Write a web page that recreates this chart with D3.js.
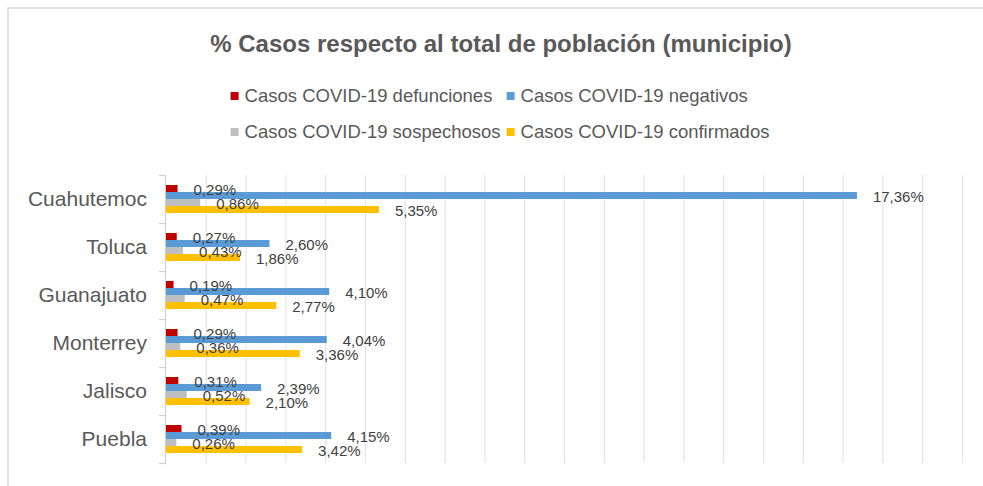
<!DOCTYPE html>
<html>
<head>
<meta charset="utf-8">
<script src="https://cdn.jsdelivr.net/npm/d3@7"></script>
<style>
  html, body { margin: 0; padding: 0; background: #fff; }
  svg { display: block; font-family: "Liberation Sans", Arial, sans-serif; }
</style>
</head>
<body>
<svg id="chart" width="983" height="486"></svg>
<script>
// Chart data
const categories = ['Cuahutemoc', 'Toluca', 'Guanajuato', 'Monterrey', 'Jalisco', 'Puebla'];
const defunciones = [0.29, 0.27, 0.19, 0.29, 0.31, 0.39];
const negativos = [17.36, 2.60, 4.10, 4.04, 2.39, 4.15];
const sospechosos = [0.86, 0.43, 0.47, 0.36, 0.52, 0.26];
const confirmados = [5.35, 1.86, 2.77, 3.36, 2.10, 3.42];

const seriesNames = [
  'Casos COVID-19 defunciones',
  'Casos COVID-19 negativos',
  'Casos COVID-19 sospechosos',
  'Casos COVID-19 confirmados'
];
const seriesValues = [defunciones, negativos, sospechosos, confirmados];
const seriesColors = ['#C00000', '#5B9BD5', '#BFBFBF', '#FFC000'];

const svg = d3.select('#chart');

// Layout
const plot = { left: 166, right: 962, top: 175, bottom: 463 };

// Outer frame (cropped at right/bottom)
svg.append('rect')
  .attr('x', 8)
  .attr('y', 8)
  .attr('width', 1000)
  .attr('height', 500)
  .attr('fill', '#fff')
  .attr('stroke', '#d9d9d9')
  .attr('stroke-width', 1.5);

// Title
svg.append('text')
  .attr('x', 501)
  .attr('y', 52)
  .attr('text-anchor', 'middle')
  .style('font-size', '24px')
  .style('font-weight', 'bold')
  .style('fill', '#595959')
  .text('% Casos respecto al total de población (municipio)');

// Scales
const xScale = d3.scaleLinear()
  .domain([0, 20])
  .range([plot.left, plot.right]);

const yScale = d3.scaleBand()
  .domain(categories)
  .range([plot.top, plot.bottom]);

const innerScale = d3.scaleBand()
  .domain(d3.range(seriesNames.length))
  .range([10, yScale.bandwidth() - 10]);

// Gridlines
svg.append('g')
  .attr('class', 'grid')
  .attr('transform', `translate(0, ${plot.bottom})`)
  .call(d3.axisBottom(xScale).ticks(20).tickSize(-(plot.bottom - plot.top)).tickFormat(''))
  .call(g => g.select('.domain').remove())
  .call(g => g.selectAll('.tick line').attr('stroke', '#e4e4e4').attr('stroke-width', 1.2))
  .call(g => g.selectAll('.tick').filter(d => d === 0).remove());

// Category axis with ticks at band boundaries
const yAxis = svg.append('g').attr('class', 'y-axis');
yAxis.append('line')
  .attr('x1', plot.left - 0.5)
  .attr('x2', plot.left - 0.5)
  .attr('y1', plot.top)
  .attr('y2', plot.bottom)
  .attr('stroke', '#d0d0d0')
  .attr('stroke-width', 1.2);

const boundaries = categories.map(c => yScale(c)).concat([plot.bottom]);
yAxis.selectAll('.band-tick')
  .data(boundaries)
  .enter()
  .append('line')
  .attr('class', 'band-tick')
  .attr('x1', plot.left - 7)
  .attr('x2', plot.left - 0.5)
  .attr('y1', d => Math.round(d) + 0.5)
  .attr('y2', d => Math.round(d) + 0.5)
  .attr('stroke', '#d0d0d0')
  .attr('stroke-width', 1.2);

yAxis.selectAll('.cat-label')
  .data(categories)
  .enter()
  .append('text')
  .attr('class', 'cat-label')
  .attr('x', 147)
  .attr('y', d => yScale(d) + yScale.bandwidth() / 2)
  .attr('dy', '0.35em')
  .attr('text-anchor', 'end')
  .style('font-size', '21px')
  .style('fill', '#595959')
  .text(d => d);

// Bars
const barData = [];
categories.forEach((cat, i) => {
  seriesValues.forEach((vals, s) => {
    barData.push({ cat, s, value: vals[i] });
  });
});

svg.append('g')
  .selectAll('.bar')
  .data(barData)
  .enter()
  .append('rect')
  .attr('class', 'bar')
  .attr('x', xScale(0))
  .attr('y', d => yScale(d.cat) + innerScale(d.s))
  .attr('width', d => xScale(d.value) - xScale(0))
  .attr('height', innerScale.bandwidth())
  .attr('fill', d => seriesColors[d.s]);

// Data labels
const fmt = v => v.toFixed(2).replace('.', ',') + '%';
svg.append('g')
  .selectAll('.label')
  .data(barData)
  .enter()
  .append('text')
  .attr('class', 'label')
  .attr('x', d => xScale(d.value) + 16)
  .attr('y', d => yScale(d.cat) + innerScale(d.s) + innerScale.bandwidth() / 2 + 1)
  .attr('dy', '0.35em')
  .style('font-size', '15px')
  .style('fill', '#404040')
  .text(d => fmt(d.value));

// Legend (two rows, two aligned columns)
const legend = svg.append('g').attr('class', 'legend');
const rows = [[0, 1], [2, 3]];
const rowY = [96, 132];
const items = [];
seriesNames.forEach((name, i) => {
  const g = legend.append('g');
  g.append('rect')
    .attr('width', 8)
    .attr('height', 8)
    .attr('y', -4)
    .attr('fill', seriesColors[i]);
  const t = g.append('text')
    .attr('x', 14)
    .attr('dy', '0.35em')
    .style('font-size', '18.5px')
    .style('fill', '#595959')
    .text(name);
  items.push({ g, w: 14 + t.node().getComputedTextLength() });
});
const colW = [d3.max([items[0].w, items[2].w]) + 6, d3.max([items[1].w, items[3].w])];
const legendW = colW[0] + colW[1];
const legendX = 500 - legendW / 2;
rows.forEach((row, r) => {
  row.forEach((idx, c) => {
    const x = legendX + (c === 0 ? 0 : colW[0]);
    items[idx].g.attr('transform', `translate(${x}, ${rowY[r]})`);
  });
});
</script>
</body>
</html>
